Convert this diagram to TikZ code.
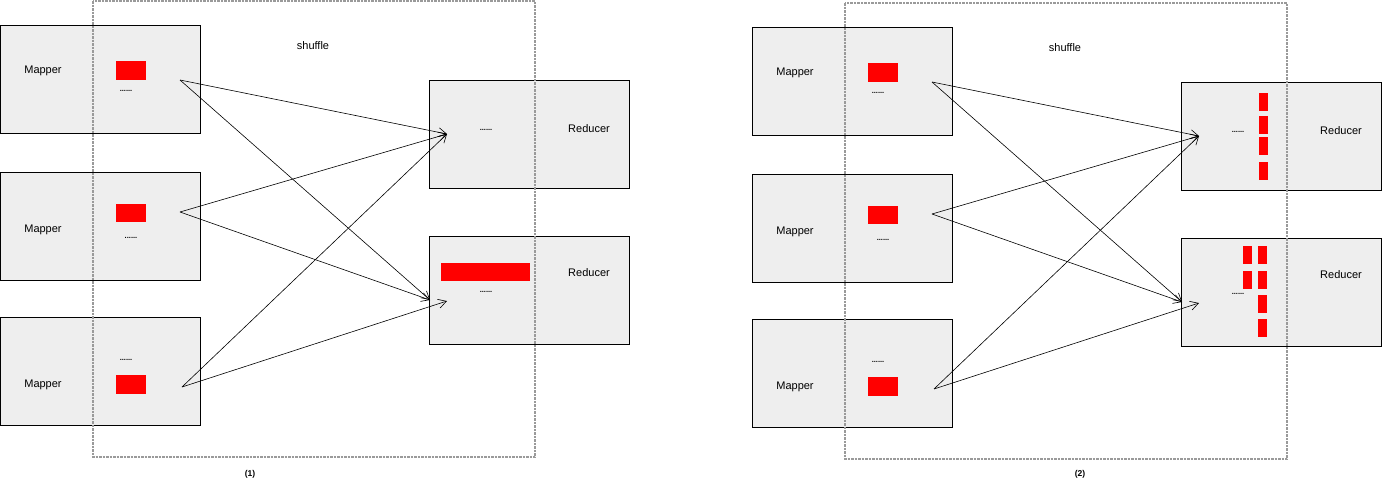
\documentclass[tikz,border=0pt]{standalone}
\usepackage{fontspec}
\setmainfont{Liberation Sans}
\usepackage{tikz}
\usetikzlibrary{positioning, arrows.meta}
\definecolor{boxgray}{HTML}{EEEEEE}
\definecolor{chunkred}{HTML}{FF0000}
\definecolor{shufflegray}{HTML}{9A9A9A}

\begin{document}
\begin{tikzpicture}[x=1pt, y=-1pt, every node/.style={font=\fontsize{11}{13}\selectfont},
  task/.style={draw, line width=0.8pt, fill=boxgray, minimum width=200pt, minimum height=108pt, inner sep=0pt},
  dots/.style={font=\bfseries\fontsize{7.5}{8}\selectfont, inner sep=0pt},
  chunk/.style={fill=chunkred},
  shufflebox/.style={draw=shufflegray, line width=1.2pt, dash pattern=on 2.5pt off 1pt},
  link/.style={-{Straight Barb[length=8pt,width=9pt]}, line width=0.6pt}]
  \useasboundingbox (0,0) rectangle (1382,480);

  % the two panels share boxes, labels and arrows
  \foreach \p/\dx/\dy in {a/0/0, b/752/2} {
    \begin{scope}[shift={(\dx,\dy)}]
      \node[task] (\p m1) at (100,79.5) {};
      \node[task] (\p m2) at (100,226) {};
      \node[task] (\p m3) at (100,371) {};
      \node[task] (\p r1) at (529.5,134) {};
      \node[task] (\p r2) at (529.5,290.5) {};
      \node (\p m1lab) at (43,71) {Mapper};
      \node (\p m2lab) at (43,230) {Mapper};
      \node (\p m3lab) at (43,385) {Mapper};
      \node (\p r1lab) at (589,129) {Reducer};
      \node (\p r2lab) at (589,273) {Reducer};
      \fill[chunk] (116,61) rectangle (146,80);
      \fill[chunk] (116,204) rectangle (146,222);
      \fill[chunk] (116,375) rectangle (146,394);
      \node[dots] (\p m1dots) at (126,91) {......};
      \node[dots] (\p m2dots) at (131,238) {......};
      \node[dots] (\p m3dots) at (126,360) {......};
      \node[dots] (\p r1dots) at (486,130) {......};
      \node[dots] (\p r2dots) at (486,292) {......};
      \draw[shufflebox] (93,1) rectangle (535,457);
      \node (\p shuffle) at (313,46) {shuffle};
      \coordinate (\p m1out) at (180,80);
      \coordinate (\p m2out) at (180,212);
      \coordinate (\p m3out) at (182,387);
      \coordinate (\p r1in) at (447,134);
      \coordinate (\p r2in) at (430,300);
      \coordinate (\p r2inb) at (447,301);
      \draw[link] (\p m1out) -- (\p r1in);
      \draw[link] (\p m1out) -- (\p r2in);
      \draw[link] (\p m2out) -- (\p r1in);
      \draw[link] (\p m2out) -- (\p r2in);
      \draw[link] (\p m3out) -- (\p r1in);
      \draw[link] (\p m3out) -- (\p r2inb);
    \end{scope}
  }
  \node[font=\bfseries\fontsize{8.5}{9}\selectfont] (capa) at (250,474) {(1)};
  \node[font=\bfseries\fontsize{8.5}{9}\selectfont] (capb) at (1080,474) {(2)};

  % (1): one merged chunk
  \fill[chunk] (441,263) rectangle (530,281);

  % (2): chunks kept apart
  \foreach \y in {93,116,137,162}
    \fill[chunk] (1259,\y) rectangle (1268,\y+18);
  \foreach \y in {246,271}
    \fill[chunk] (1243,\y) rectangle (1252,\y+18);
  \foreach \y in {246,271,295,319}
    \fill[chunk] (1258,\y) rectangle (1267,\y+18);
\end{tikzpicture}
\end{document}
